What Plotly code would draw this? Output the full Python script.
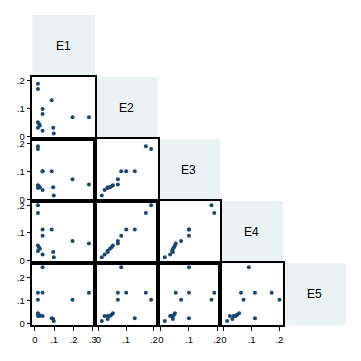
import plotly.graph_objects as go

names = ["E1", "E2", "E3", "E4", "E5"]
E1 = [0.016, 0.016, 0.087, 0.040, 0.040, 0.016, 0.021, 0.026, 0.016, 0.040, 0.195, 0.280, 0.095, 0.098]
E2 = [0.190, 0.171, 0.131, 0.100, 0.082, 0.052, 0.047, 0.041, 0.033, 0.022, 0.070, 0.070, 0.033, 0.012]
E3 = [0.180, 0.190, 0.100, 0.100, 0.100, 0.050, 0.047, 0.043, 0.040, 0.033, 0.072, 0.053, 0.043, 0.014]
E4 = [0.200, 0.172, 0.112, 0.112, 0.090, 0.055, 0.048, 0.043, 0.035, 0.022, 0.071, 0.062, 0.031, 0.012]
E5 = [0.103, 0.133, 0.023, 0.133, 0.244, 0.044, 0.038, 0.033, 0.033, 0.033, 0.103, 0.133, 0.020, 0.011]
data = [E1, E2, E3, E4, E5]

tickvals_x = {0: [0, 0.1, 0.2, 0.3], 1: [0, 0.1, 0.2], 2: [0, 0.1, 0.2], 3: [0, 0.1, 0.2]}
tickvals_y = {1: [0, 0.1, 0.2], 2: [0, 0.1, 0.2], 3: [0, 0.1, 0.2], 4: [0, 0.1, 0.2]}

def fmt(v):
    return "0" if v == 0 else ("%.1f" % v).lstrip("0")

# page body has an 8px margin, so the figure is placed at (8, 8)
OFF = 8
W = H = 361 - OFF
CELL = 63
col_left = [32.5 - OFF + CELL * j for j in range(5)]
row_top = [13 - OFF + CELL * i for i in range(5)]

xranges = {0: [-0.0129, 0.3114], 1: [-0.0126, 0.2136], 2: [-0.0113, 0.2113], 3: [-0.0125, 0.2125]}
yranges = {1: [-0.0081, 0.2141], 2: [-0.0070, 0.2152], 3: [-0.0096, 0.2142], 4: [-0.0086, 0.2612]}

MARK = "#1a476f"
FILL = "#EAF2F3"
FONT = "Liberation Sans, Arial, sans-serif"

fig = go.Figure()
layout = {}
k = 0
for i in range(5):
    for j in range(i):
        k += 1
        xa = "x" if k == 1 else "x%d" % k
        ya = "y" if k == 1 else "y%d" % k
        fig.add_trace(go.Scatter(
            x=data[j], y=data[i], mode="markers", xaxis=xa, yaxis=ya,
            marker=dict(color=MARK, size=4, symbol="circle"),
            showlegend=False, hoverinfo="skip"))
        x0 = col_left[j] / W
        x1 = (col_left[j] + CELL) / W
        y1 = 1 - row_top[i] / H
        y0 = 1 - (row_top[i] + CELL) / H
        bottom = (i == 4)
        left = (j == 0)
        layout["xaxis" if k == 1 else "xaxis%d" % k] = dict(
            domain=[x0, x1], range=xranges[j], anchor=ya,
            showgrid=False, zeroline=False, showline=True, mirror=True,
            linecolor="black", linewidth=1.5,
            tickmode="array", tickvals=tickvals_x[j],
            ticktext=[fmt(v) for v in tickvals_x[j]],
            ticks="outside" if bottom else "", ticklen=4, tickwidth=1, tickcolor="black",
            showticklabels=bottom,
            tickfont=dict(size=9.5, color="black", family=FONT),
            fixedrange=True)
        layout["yaxis" if k == 1 else "yaxis%d" % k] = dict(
            domain=[y0, y1], range=yranges[i], anchor=xa,
            showgrid=False, zeroline=False, showline=True, mirror=True,
            linecolor="black", linewidth=1.5,
            tickmode="array", tickvals=tickvals_y[i],
            ticktext=[fmt(v) for v in tickvals_y[i]],
            ticks="outside" if left else "", ticklen=4, tickwidth=1, tickcolor="black",
            showticklabels=left,
            tickfont=dict(size=9.5, color="black", family=FONT),
            fixedrange=True)

shapes = []
annotations = []
for d in range(5):
    x0 = col_left[d] / W
    x1 = (col_left[d] + CELL) / W
    y1 = 1 - row_top[d] / H
    y0 = 1 - (row_top[d] + CELL) / H
    shapes.append(dict(type="rect", xref="paper", yref="paper", x0=x0, x1=x1, y0=y0, y1=y1,
                       fillcolor=FILL, line=dict(width=0), layer="below"))
    annotations.append(dict(text=names[d], xref="paper", yref="paper",
                            x=(x0 + x1) / 2, y=(y0 + y1) / 2, showarrow=False,
                            font=dict(size=12, color="black", family=FONT),
                            xanchor="center", yanchor="middle"))

fig.update_layout(
    width=W, height=H, autosize=False,
    margin=dict(l=0, r=0, t=0, b=0),
    paper_bgcolor="white", plot_bgcolor="white",
    shapes=shapes, annotations=annotations,
    **layout)

fig.write_html("out.html", config={"displayModeBar": False})
